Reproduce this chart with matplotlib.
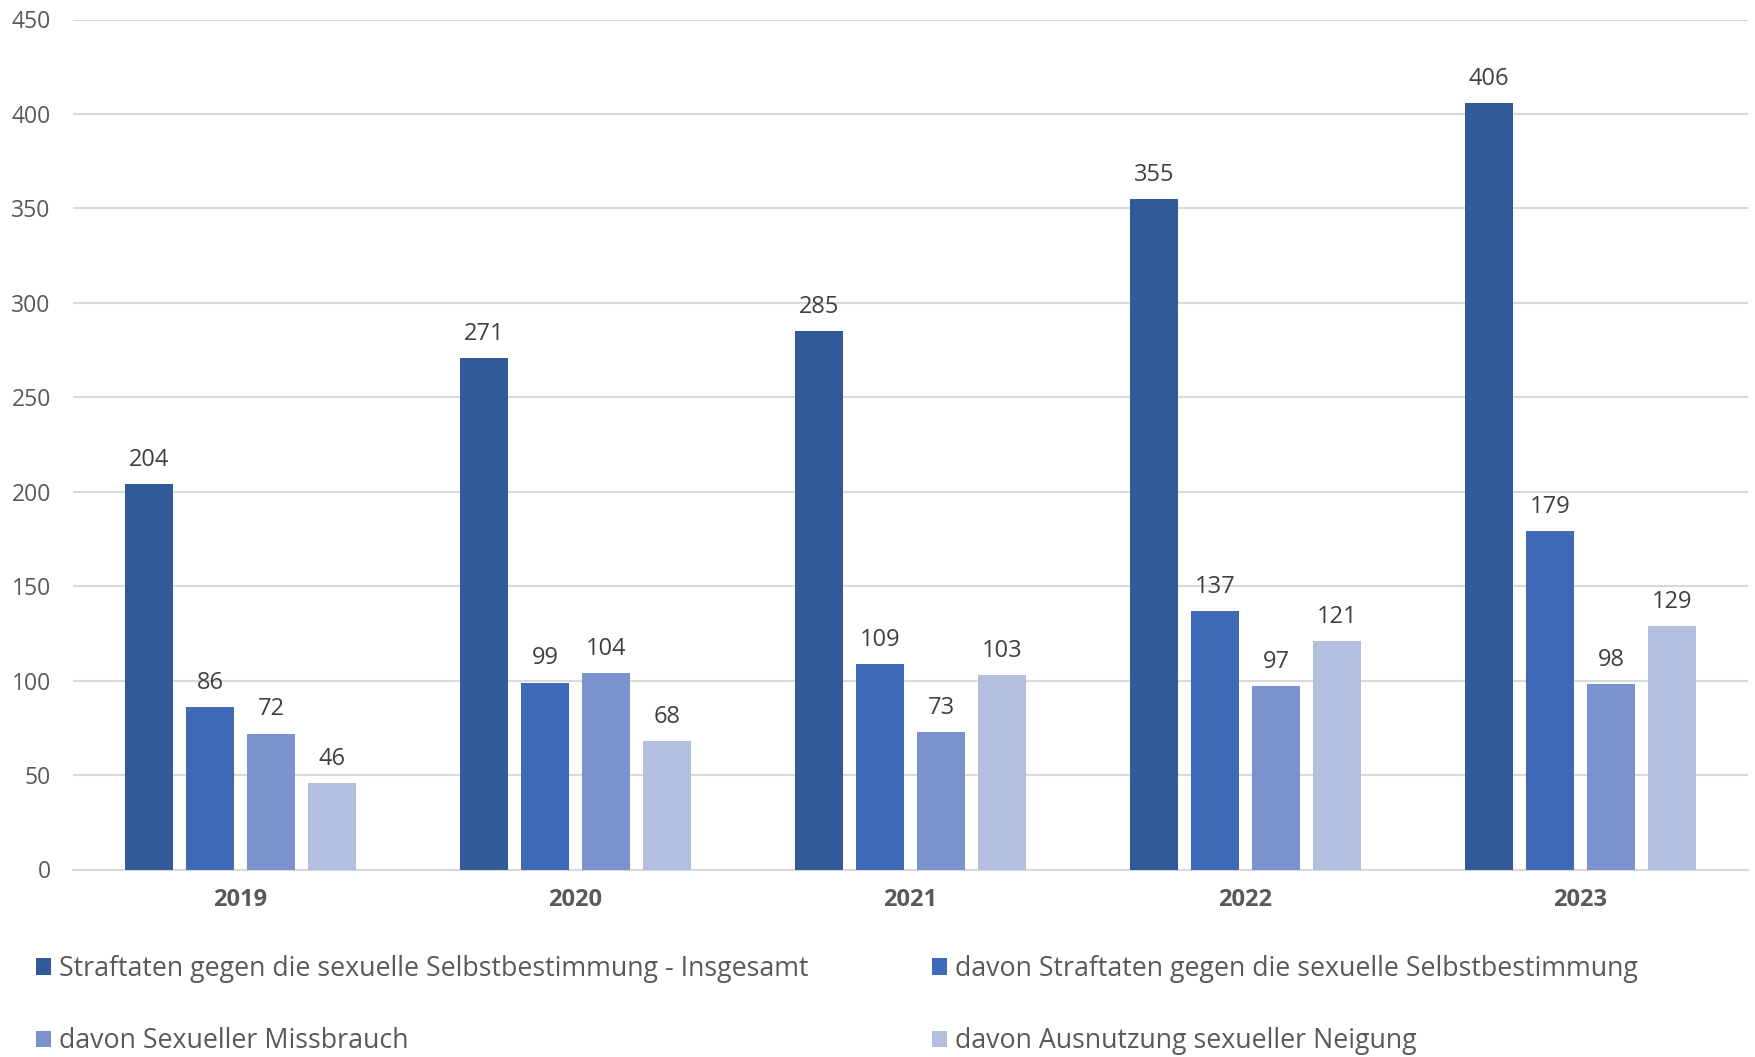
import matplotlib
matplotlib.use("Agg")
import matplotlib.pyplot as plt
import numpy as np

years = ["2019", "2020", "2021", "2022", "2023"]
series_names = [
    "Straftaten gegen die sexuelle Selbstbestimmung - Insgesamt",
    "davon Straftaten gegen die sexuelle Selbstbestimmung",
    "davon Sexueller Missbrauch",
    "davon Ausnutzung sexueller Neigung",
]
insgesamt = [204, 271, 285, 355, 406]
davon_straftaten = [86, 99, 109, 137, 179]
davon_missbrauch = [72, 104, 73, 97, 98]
davon_ausnutzung = [46, 68, 103, 121, 129]
colors = ["#325A99", "#3F6AB7", "#7A93CE", "#B3BFDF"]
yticks = [0, 50, 100, 150, 200, 250, 300, 350, 400, 450]

plt.rcParams['font.family'] = ['Open Sans', 'DejaVu Sans']

fig = plt.figure(figsize=(17.56, 10.57), dpi=100)
ax = fig.add_axes([73/1756, 1-869.5/1057, (1748-73)/1756, (869.5-19.5)/1057])

all_series = [insgesamt, davon_straftaten, davon_missbrauch, davon_ausnutzung]
x = np.arange(len(years))
bw = 48/335
pitch = 61/335
handles = []
for i, (vals, c, name) in enumerate(zip(all_series, colors, series_names)):
    pos = x + (i - 1.5) * pitch
    b = ax.bar(pos, vals, width=bw, color=c, label=name, zorder=3)
    handles.append(b)
    for p, v in zip(pos, vals):
        ax.annotate(str(v), (p, v), xytext=(0, 13), textcoords="offset points",
                    ha="center", va="baseline", fontsize=17, color="#404040")

ax.set_xlim(-0.5, len(years) - 0.5)
ax.set_ylim(0, 450)
ax.set_yticks(yticks)
ax.set_yticklabels([str(t) for t in yticks], fontsize=16.5, color="#595959")
ax.set_xticks(x)
ax.set_xticklabels(years, fontsize=17, fontweight="bold", color="#595959")
ax.tick_params(axis="both", length=0)
ax.tick_params(axis="y", pad=16)
ax.tick_params(axis="x", pad=13.5)
ax.grid(axis="y", color="#D9D9D9", linewidth=1.5, zorder=0)
for s in ["top", "right", "left"]:
    ax.spines[s].set_visible(False)
ax.spines["bottom"].set_color("#D9D9D9")
ax.spines["bottom"].set_linewidth(1.5)

order = [0, 2, 1, 3]
leg = fig.legend([handles[k] for k in order], [series_names[k] for k in order],
                 ncol=2, loc="upper left", bbox_to_anchor=(36/1756, 1-955/1057),
                 frameon=False, fontsize=19.3, handlelength=0.56, handleheight=0.56,
                 handletextpad=0.3, labelspacing=1.65, columnspacing=4.6,
                 labelcolor="#595959", borderaxespad=0, borderpad=0)

fig.savefig("out.png", dpi=100)
